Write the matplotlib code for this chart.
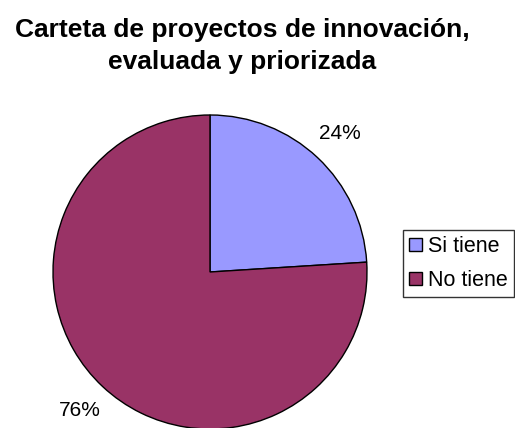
import matplotlib.pyplot as plt
from matplotlib.patches import Patch

plt.rcParams['font.family'] = ['Liberation Sans', 'DejaVu Sans']

# Data
labels = ['Si tiene', 'No tiene']
values = [24, 76]
colors = ['#9999FF', '#993366']

W, H = 515, 428
fig = plt.figure(figsize=(W / 100, H / 100), dpi=100)
ax = fig.add_axes([0, 0, 1, 1])

wedges, texts, autotexts = ax.pie(
    values, colors=colors, startangle=90, counterclock=False,
    center=(210, H - 272), radius=157, autopct='%d%%', pctdistance=1.21,
    wedgeprops=dict(edgecolor='black', linewidth=1),
    textprops=dict(fontsize=15), frame=True)
ax.set_xlim(0, W)
ax.set_ylim(0, H)
ax.set_aspect('equal')
ax.axis('off')

fig.text(0.47, 1 - 46 / H, 'Carteta de proyectos de innovación,\nevaluada y priorizada',
         ha='center', va='center', fontsize=19, fontweight='bold', linespacing=1.38)

handles = [Patch(facecolor=c, edgecolor='black', label=l) for c, l in zip(colors, labels)]
fig.legend(handles=handles, loc='center left', bbox_to_anchor=(403 / W, 1 - 263.5 / H),
           fontsize=15.5, frameon=True, fancybox=False, edgecolor='black',
           handlelength=0.56, handleheight=0.56, handletextpad=0.28, borderpad=0.3,
           labelspacing=0.6, borderaxespad=0)

fig.savefig('out.png', dpi=100)
